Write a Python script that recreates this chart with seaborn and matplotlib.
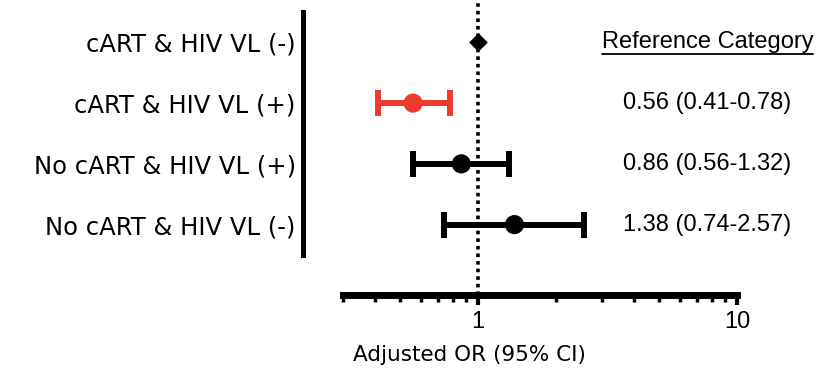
import numpy as np
import pandas as pd
import matplotlib
matplotlib.use("Agg")
import matplotlib.pyplot as plt
import matplotlib.transforms as mtransforms
import seaborn as sns

# Data
groups = ["cART & HIV VL (-)", "cART & HIV VL (+)", "No cART & HIV VL (+)", "No cART & HIV VL (-)"]
odds_ratio = [1.0, 0.56, 0.86, 1.38]
ci_low = [np.nan, 0.41, 0.56, 0.74]
ci_high = [np.nan, 0.78, 1.32, 2.57]
labels_right = ["Reference Category", "0.56 (0.41-0.78)", "0.86 (0.56-1.32)", "1.38 (0.74-2.57)"]
row_color = ["black", "#EE3A2C", "black", "black"]
x_ticks = [1, 10]

sns.set_style("ticks")
plt.rcParams["font.family"] = ["Liberation Sans", "DejaVu Sans"]
plt.rcParams["text.color"] = "black"
plt.rcParams["xtick.color"] = "black"
plt.rcParams["ytick.color"] = "black"
plt.rcParams["axes.labelcolor"] = "black"

df = pd.DataFrame({"group": groups, "OR": odds_ratio, "lo": ci_low, "hi": ci_high})
ypos = np.arange(len(groups))

fig = plt.figure(figsize=(8.32, 3.71), dpi=100)
ax = fig.add_axes([343 / 832, 1 - 255 / 371, 394 / 832, 243 / 371])

# dotted reference line at OR = 1
ax.axvline(1, ymin=-0.165, ymax=1.06, color="black", lw=2.6, ls=(0, (1, 1.1)),
           clip_on=False, zorder=1)

# confidence intervals
for i, row in df.iterrows():
    if np.isnan(row["lo"]):
        continue
    ax.errorbar(row["OR"], ypos[i], xerr=[[row["OR"] - row["lo"]], [row["hi"] - row["OR"]]],
                fmt="none", ecolor=row_color[i], elinewidth=4.3, capsize=9.5, capthick=4.3,
                zorder=2)

# point estimates
df["y"] = ypos
df["kind"] = ["ref", "sig", "ns", "ns"]
sns.scatterplot(data=df[df["kind"] != "ref"], x="OR", y="y", hue="kind",
                palette={"sig": "#EE3A2C", "ns": "black"}, s=190, linewidth=0,
                legend=False, ax=ax, zorder=3)
sns.scatterplot(data=df[df["kind"] == "ref"], x="OR", y="y", marker="D", color="black",
                s=90, linewidth=0, legend=False, ax=ax, zorder=3)

ax.set_xscale("log")
ax.set_xlim(0.3, 10)
ax.set_ylim(3.5, -0.5)

sns.despine(ax=ax, offset=29)
ax.spines["bottom"].set_linewidth(5)
ax.spines["left"].set_linewidth(3.6)
ax.spines["bottom"].set_color("black")
ax.spines["left"].set_color("black")

ax.set_xticks(x_ticks)
ax.set_xticklabels([str(t) for t in x_ticks])
ax.xaxis.set_minor_locator(matplotlib.ticker.LogLocator(base=10, subs=np.arange(2, 10)))
ax.xaxis.set_minor_formatter(matplotlib.ticker.NullFormatter())
ax.tick_params(axis="x", which="major", length=7, width=3, labelsize=17, pad=4)
ax.tick_params(axis="x", which="minor", length=5, width=2.5)

ax.set_yticks(ypos)
ax.set_yticklabels(groups, family=["DejaVu Sans"])
ax.tick_params(axis="y", length=0, pad=5, labelsize=17.5)

ax.set_xlabel("Adjusted OR (95% CI)", fontsize=15.5, family=["DejaVu Sans"])
ax.set_ylabel("")
ax.xaxis.set_label_coords(0.32, -0.37)

# right-hand annotations
trans = mtransforms.blended_transform_factory(ax.transAxes, ax.transData)
texts = []
for i, txt in enumerate(labels_right):
    texts.append(ax.text(0.925, ypos[i], txt, transform=trans, ha="center", va="center",
                         fontsize=17, clip_on=False))

# underline the reference label
fig.canvas.draw()
bb = texts[0].get_window_extent(fig.canvas.get_renderer())
inv = fig.transFigure.inverted()
(x0, y0), (x1, _) = inv.transform([(bb.x0, bb.y0 - 1), (bb.x1, bb.y0 - 1)])
fig.add_artist(plt.Line2D([x0, x1], [y0, y0], color="black", lw=1.3))

fig.savefig("out.png", dpi=100)
